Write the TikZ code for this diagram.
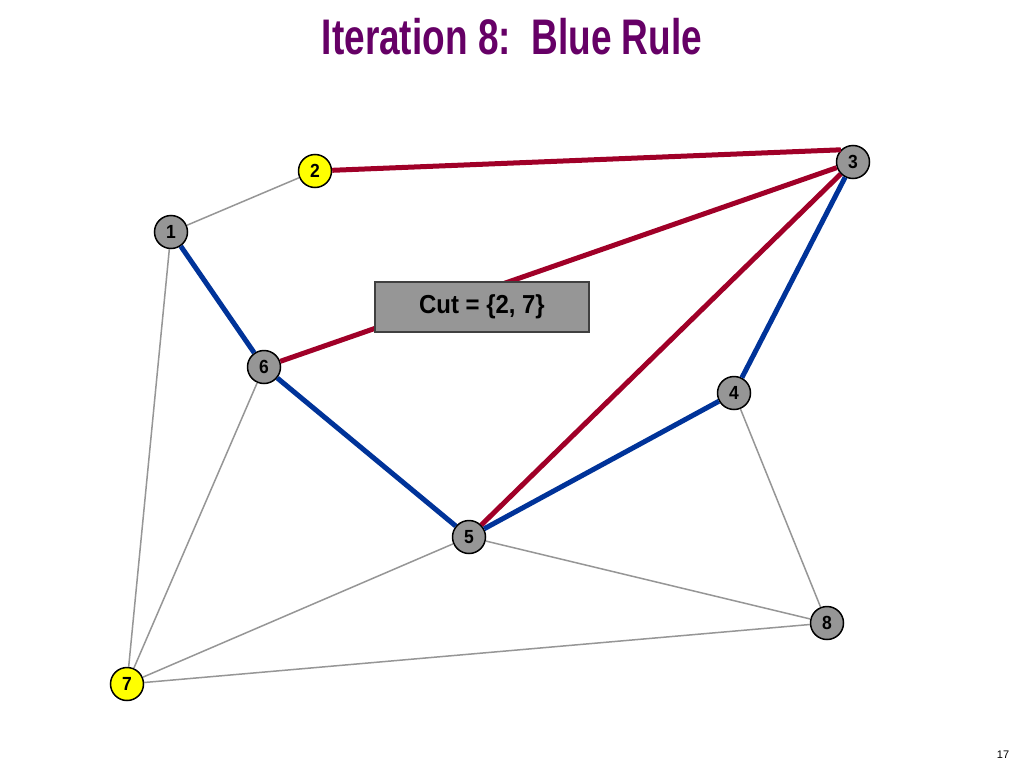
\documentclass[tikz,border=0pt]{standalone}
\usepackage{fontspec}
\setmainfont{Liberation Sans}
\newfontfamily\narrowfont{Liberation Sans}[FakeStretch=0.74]
\newfontfamily\slimfont{Liberation Sans}[FakeStretch=0.92]
\usepackage{tikz}
\usepackage{xcolor}
\definecolor{ColTitle}{RGB}{102,0,102}
\definecolor{ColRed}{RGB}{160,0,40}
\definecolor{ColBlue}{RGB}{0,51,153}
\definecolor{ColNode}{RGB}{150,150,150}
\definecolor{ColCut}{RGB}{255,255,0}
\tikzstyle{NodeGraph}=[circle,draw=black,fill=ColNode,inner sep=0pt,minimum size=33pt,
line width=1.5pt,font=\slimfont\bfseries\fontsize{19}{19}\selectfont]
\tikzstyle{NodeCut}=[NodeGraph,fill=ColCut]
\tikzstyle{EdgeGraph}=[ColNode,line width=1.5pt]
\tikzstyle{EdgeRed}=[ColRed,line width=5pt]
\tikzstyle{EdgeBlue}=[ColBlue,line width=5pt]
\tikzstyle{CutBox}=[draw=black!75,fill=ColNode,line width=1.5pt,minimum width=214pt,
minimum height=50pt,font=\slimfont\bfseries\fontsize{26}{26}\selectfont]

\begin{document}
\begin{tikzpicture}[x=1pt,y=-1pt]
        \useasboundingbox[fill=white](0,0)rectangle(1024,768);
        \node[font=\narrowfont\bfseries\fontsize{50}{50}\selectfont,text=ColTitle](title)at(512,37){Iteration 8:\ \ Blue Rule};
        \node[font=\fontsize{11}{11}\selectfont](page)at(1003,755){17};
        \node[NodeGraph](n1)at(171,232){1};
        \node[NodeCut](n2)at(315,171){2};
        \node[NodeGraph](n3)at(853,162){3};
        \node[NodeGraph](n4)at(734,393){4};
        \node[NodeGraph](n5)at(469,537){5};
        \node[NodeGraph](n6)at(264,367){6};
        \node[NodeCut](n7)at(127,684){7};
        \node[NodeGraph](n8)at(827,623){8};
        \draw[EdgeGraph](n1)--(n2);
        \draw[EdgeGraph](n1)--(n7);
        \draw[EdgeGraph](n6)--(n7);
        \draw[EdgeGraph](n5)--(n7);
        \draw[EdgeGraph](n5)--(n8);
        \draw[EdgeGraph](n4)--(n8);
        \draw[EdgeGraph](n7)--(n8);
        \draw[EdgeBlue](n1)--(n6);
        \draw[EdgeBlue](n6)--(n5);
        \draw[EdgeBlue](n5)--(n4);
        \draw[EdgeBlue](n4)--(n3);
        \draw[EdgeRed](n2)--(n3.north west);
        \draw[EdgeRed](n6)--(n3);
        \draw[EdgeRed](n5)--(n3);
        \node[CutBox](cut)at(482,307){Cut = \{2, 7\}};
    \end{tikzpicture}
\end{document}
